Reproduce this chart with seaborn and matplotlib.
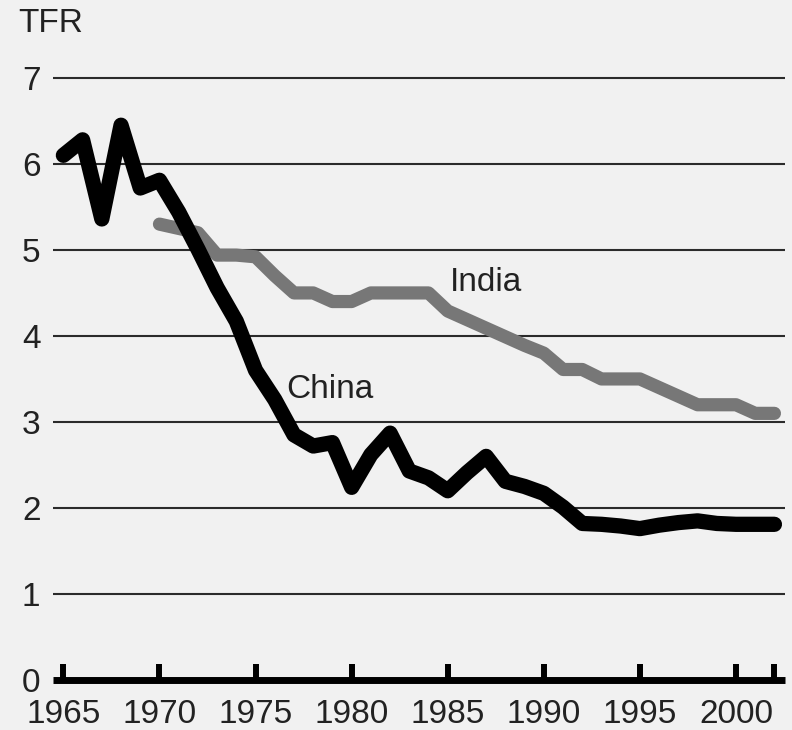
"""
Total fertility rate, China vs India, 1965-2002
"""
import numpy as np
import pandas as pd
import matplotlib
matplotlib.use('Agg')
import matplotlib.pyplot as plt
import seaborn as sns

# data
china_years = list(range(1965, 2003))
china_tfr = [6.10, 6.28, 5.36, 6.45, 5.72, 5.81, 5.44, 5.01, 4.56, 4.17,
             3.60, 3.26, 2.85, 2.72, 2.76, 2.24, 2.62, 2.87, 2.43, 2.35,
             2.20, 2.41, 2.60, 2.31, 2.25, 2.17, 2.01, 1.82, 1.81, 1.79,
             1.76, 1.80, 1.83, 1.85, 1.82, 1.81, 1.81, 1.81]

india_years = list(range(1970, 2003))
india_tfr = [5.30, 5.25, 5.20, 4.94, 4.94, 4.92, 4.70, 4.50, 4.50, 4.40,
             4.40, 4.50, 4.50, 4.50, 4.50, 4.29, 4.19, 4.09, 3.99, 3.89,
             3.80, 3.61, 3.61, 3.50, 3.50, 3.50, 3.40, 3.30, 3.20, 3.20,
             3.20, 3.10, 3.10]

x_ticks = [1965, 1970, 1975, 1980, 1985, 1990, 1995, 2000, 2002]
x_tick_labels = ['1965', '1970', '1975', '1980', '1985', '1990', '1995', '2000', '']
y_ticks = [0, 1, 2, 3, 4, 5, 6, 7]

china = pd.DataFrame({'year': china_years, 'tfr': china_tfr})
india = pd.DataFrame({'year': india_years, 'tfr': india_tfr})

bg = '#f1f1f1'
sns.set_style('white')
plt.rcParams['font.family'] = ['Liberation Sans', 'DejaVu Sans']

fig = plt.figure(figsize=(7.92, 7.30), dpi=100, facecolor=bg)
ax = fig.add_axes([53 / 792, 50 / 730, 732 / 792, 615 / 730])
ax.set_facecolor(bg)

# horizontal grid lines
for v in y_ticks[1:]:
    ax.axhline(v, color='#2b2b2b', linewidth=1.5, zorder=1)

sns.lineplot(data=india, x='year', y='tfr', ax=ax, color='#777777',
             linewidth=9.5, solid_capstyle='round', solid_joinstyle='round', zorder=3)
sns.lineplot(data=china, x='year', y='tfr', ax=ax, color='black',
             linewidth=11, solid_capstyle='round', solid_joinstyle='round', zorder=4)

ax.text(1985.12, 4.62, 'India', fontsize=24, color='#222222', va='center', ha='left')
ax.text(1976.62, 3.38, 'China', fontsize=24, color='#222222', va='center', ha='left')

ax.set_xlim(1964.46, 2002.55)
ax.set_ylim(0, 7.15)

ax.set_xticks(x_ticks)
ax.set_xticklabels(x_tick_labels)
ax.set_yticks(y_ticks)
ax.set_yticklabels([str(v) for v in y_ticks])
ax.tick_params(axis='x', bottom=True, direction='in', length=11.5, width=4.3, color='black',
               labelsize=24, pad=14, labelcolor='#222222')
ax.tick_params(axis='y', left=False, length=0, labelsize=24, pad=9, labelcolor='#222222')

ax.set_xlabel('')
ax.set_ylabel('')

for side in ['left', 'right', 'top']:
    ax.spines[side].set_visible(False)
ax.spines['bottom'].set_linewidth(5)
ax.spines['bottom'].set_color('black')
ax.spines['bottom'].set_capstyle('butt')

fig.text(18 / 792, 1 - 23 / 730, 'TFR', fontsize=24, color='#222222', va='center', ha='left')

plt.savefig('out.png', dpi=100, facecolor=bg)
